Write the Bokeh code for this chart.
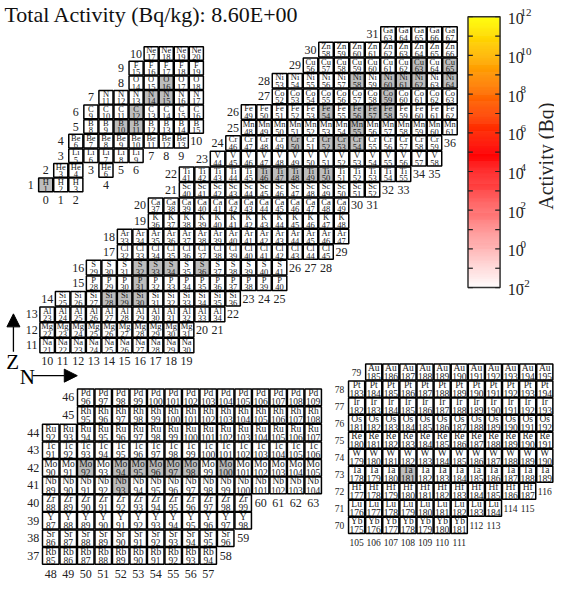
import numpy as np
from bokeh.plotting import figure
from bokeh.models import Range1d, ColumnDataSource, Arrow, NormalHead
from bokeh.core.properties import value
from bokeh.embed import file_html
from bokeh.resources import INLINE

FONT = "Liberation Serif"

title_text = "Total Activity (Bq/kg): 8.60E+00"

# rows of the nuclide chart: element symbol, Z, first mass number, last mass number
rows_light = [("H", 1, 1, 3), ("He", 2, 3, 4), ("He", 2, 6, 6), ("Li", 3, 5, 9),
              ("Be", 4, 6, 13), ("B", 5, 8, 15), ("C", 6, 9, 16), ("N", 7, 11, 17),
              ("O", 8, 14, 18), ("F", 9, 15, 19), ("Ne", 10, 17, 20)]
rows_mid = [("Na", 11, 21, 30), ("Mg", 12, 22, 31), ("Al", 13, 23, 34), ("Si", 14, 25, 36),
            ("P", 15, 28, 40), ("S", 16, 29, 41), ("Cl", 17, 32, 45), ("Ar", 18, 33, 47),
            ("K", 19, 36, 48), ("Ca", 20, 37, 49), ("Sc", 21, 40, 52), ("Ti", 22, 41, 55),
            ("V", 23, 44, 58), ("Cr", 24, 46, 59), ("Mn", 25, 48, 61), ("Fe", 26, 49, 62),
            ("Co", 27, 52, 63), ("Ni", 28, 53, 64), ("Cu", 29, 56, 65), ("Zn", 30, 58, 66),
            ("Ga", 31, 63, 67)]
rows_rb_pd = [("Rb", 37, 85, 94), ("Sr", 38, 86, 96), ("Y", 39, 87, 98), ("Zr", 40, 88, 99),
              ("Nb", 41, 89, 104), ("Mo", 42, 90, 105), ("Tc", 43, 91, 106), ("Ru", 44, 92, 107),
              ("Rh", 45, 95, 108), ("Pd", 46, 96, 109)]
rows_yb_au = [("Yb", 70, 175, 181), ("Lu", 71, 176, 184), ("Hf", 72, 177, 187), ("Ta", 73, 178, 189),
              ("W", 74, 179, 190), ("Re", 75, 180, 191), ("Os", 76, 181, 192), ("Ir", 77, 182, 193),
              ("Pt", 78, 183, 194), ("Au", 79, 185, 195)]

# nuclides highlighted in grey
shaded = ["H-1", "B-10", "B-11", "C-12", "N-14", "N-15", "O-16",
          "Si-28", "Si-29", "Si-30", "P-31", "S-32", "S-33", "S-34", "S-36",
          "Ti-46", "Ti-47", "Ti-48", "Ti-49", "Ti-50",
          "Cr-50", "Cr-52", "Cr-53", "Cr-54", "Mn-55",
          "Fe-54", "Fe-56", "Fe-57", "Fe-58", "Co-59",
          "Ni-58", "Ni-60", "Ni-61", "Ni-62", "Ni-64", "Cu-63", "Cu-65",
          "Nb-93", "Mo-92", "Mo-94", "Mo-95", "Mo-96", "Mo-97", "Mo-98", "Mo-100",
          "Ta-181"]

# colour bar
cb_title = "Activity (Bq)"
cb_exp_min, cb_exp_max = -2, 12
cb_tick_exps = list(range(-2, 13))
cb_label_exps = [12, 10, 8, 6, 4, 2, 0, -2]

# canvas and reference frame (reference pixels are squeezed into the canvas)
W, H = 554, 581
REF_W, REF_H = 570, 597

def fpx(v):
    return value(f"{v:g}px")

# layout of the four panels (reference pixels)
panels = [
    dict(rows=rows_light, N0=0, x0=46.5, px=15.5, Z0=1, y0=189.5, py=15.0, fs=8.5, lfs=12),
    dict(rows=rows_mid, N0=10, x0=48.0, px=15.94, Z0=11, y0=354.5, py=16.0, fs=8.5, lfs=12),
    dict(rows=rows_rb_pd, N0=48, x0=51.7, px=18.0, Z0=37, y0=570.7, py=18.1, fs=9.5, lfs=12),
    dict(rows=rows_yb_au, N0=105, x0=366.4, px=17.6, Z0=70, y0=539.3, py=17.5, fs=9.5, lfs=9.5),
]

p = figure(width=W, height=H, x_range=Range1d(0, REF_W), y_range=Range1d(REF_H, 0),
           output_backend="svg", toolbar_location=None, min_border=0,
           x_axis_location=None, y_axis_location=None)
p.grid.visible = False
p.outline_line_color = None
p.background_fill_color = "white"

shaded_set = set(shaded)

for pan in panels:
    xs, ys, syms, masses, fills = [], [], [], [], []
    zmin_by_n, nmin_by_z = {}, {}
    for sym, Z, a1, a2 in pan["rows"]:
        for A in range(a1, a2 + 1):
            N = A - Z
            xs.append(pan["x0"] + (N - pan["N0"]) * pan["px"])
            ys.append(pan["y0"] - (Z - pan["Z0"]) * pan["py"])
            syms.append(sym)
            masses.append(str(A))
            fills.append("#bdbdbd" if f"{sym}-{A}" in shaded_set else "white")
            zmin_by_n[N] = min(zmin_by_n.get(N, 999), Z)
            nmin_by_z[Z] = min(nmin_by_z.get(Z, 999), N)
    src = ColumnDataSource(dict(x=xs, y=ys, sym=syms, mass=masses, fill=fills,
                                ys=[y - 0.23 * pan["py"] for y in ys],
                                ym=[y + 0.26 * pan["py"] for y in ys]))
    p.rect(x="x", y="y", width=pan["px"] - 1.0, height=pan["py"] - 1.0, source=src,
           fill_color="fill", line_color="black", line_width=1.5)
    p.text(x="x", y="ys", text="sym", source=src, text_font=value(FONT),
           text_font_size=fpx(pan["fs"]), text_align="center",
           text_baseline="middle", text_color="#1a1a1a")
    p.text(x="x", y="ym", text="mass", source=src, text_font=value(FONT),
           text_font_size=fpx(pan["fs"]), text_align="center",
           text_baseline="middle", text_color="#1a1a1a")
    # row (Z) labels and column (N) labels
    lx, ly, lt = [], [], []
    for Z, nmin in nmin_by_z.items():
        lx.append(pan["x0"] + (nmin - 1 - pan["N0"]) * pan["px"])
        ly.append(pan["y0"] - (Z - pan["Z0"]) * pan["py"])
        lt.append(str(Z))
    for N, zmin in zmin_by_n.items():
        lx.append(pan["x0"] + (N - pan["N0"]) * pan["px"])
        ly.append(pan["y0"] - (zmin - 1 - pan["Z0"]) * pan["py"])
        lt.append(str(N))
    p.text(x=lx, y=ly, text=lt, text_font=value(FONT),
           text_font_size=fpx(pan["lfs"]), text_align="center",
           text_baseline="middle", text_color="#222222")

# title
p.text(x=[4], y=[14], text=[title_text], text_font=value(FONT),
       text_font_size=fpx(22), text_align="left", text_baseline="middle",
       text_color="#111111")

# Z and N arrows
p.add_layout(Arrow(end=NormalHead(size=13, fill_color="black", line_color="black"),
                   x_start=13.3, y_start=361, x_end=13.3, y_end=322, line_width=1.3))
p.add_layout(Arrow(end=NormalHead(size=13, fill_color="black", line_color="black"),
                   x_start=33, y_start=385.5, x_end=79, y_end=385.5, line_width=1.3))
p.text(x=[12.5, 27.5], y=[371.5, 386.5], text=["Z", "N"], text_font=value(FONT),
       text_font_size=fpx(21), text_align="center", text_baseline="middle",
       text_color="black")

# colour bar
cb_left, cb_right, cb_top, cb_bot = 481, 514, 16.7, 295.0
def exp_to_y(e):
    return cb_bot - (e - cb_exp_min) / (cb_exp_max - cb_exp_min) * (cb_bot - cb_top)

n_steps = 280
edges = np.linspace(cb_exp_min, cb_exp_max, n_steps + 1)
cols = []
for e0, e1 in zip(edges[:-1], edges[1:]):
    t = ((e0 + e1) / 2 - cb_exp_min) / (cb_exp_max - cb_exp_min)
    if t < 0.5:
        g = int(round(255 * (1 - 2 * t)))
        cols.append("#%02x%02x%02x" % (255, g, g))
    else:
        g = int(round(255 * (2 * t - 1)))
        cols.append("#%02x%02x%02x" % (255, g, 0))
p.quad(left=cb_left, right=cb_right, bottom=[exp_to_y(e) for e in edges[:-1]],
       top=[exp_to_y(e) for e in edges[1:]], fill_color=cols, line_color=cols, line_width=0.5)
p.quad(left=[cb_left], right=[cb_right], bottom=[cb_bot], top=[cb_top],
       fill_color=None, line_color="#333333", line_width=1.5)
ty = [exp_to_y(e) for e in cb_tick_exps]
p.segment(x0=[cb_left] * len(ty), x1=[cb_left + 5] * len(ty), y0=ty, y1=ty,
          line_color="#222222", line_width=1.2)
p.segment(x0=[cb_right - 5] * len(ty), x1=[cb_right] * len(ty), y0=ty, y1=ty,
          line_color="#222222", line_width=1.2)
ly = [exp_to_y(e) for e in cb_label_exps]
p.text(x=[522] * len(ly), y=[y + 2 for y in ly], text=["10"] * len(ly), text_font=value(FONT),
       text_font_size=fpx(16), text_align="left", text_baseline="middle", text_color="#222222")
p.text(x=[535] * len(ly), y=[y - 4.5 for y in ly], text=[str(e) for e in cb_label_exps],
       text_font=value(FONT), text_font_size=fpx(11), text_align="left",
       text_baseline="middle", text_color="#222222")
p.text(x=[561], y=[160], text=[cb_title], angle=np.pi / 2, text_font=value(FONT),
       text_font_size=fpx(20), text_align="center", text_baseline="middle",
       text_color="#222222")

open("out.html", "w").write(file_html(p, INLINE))
